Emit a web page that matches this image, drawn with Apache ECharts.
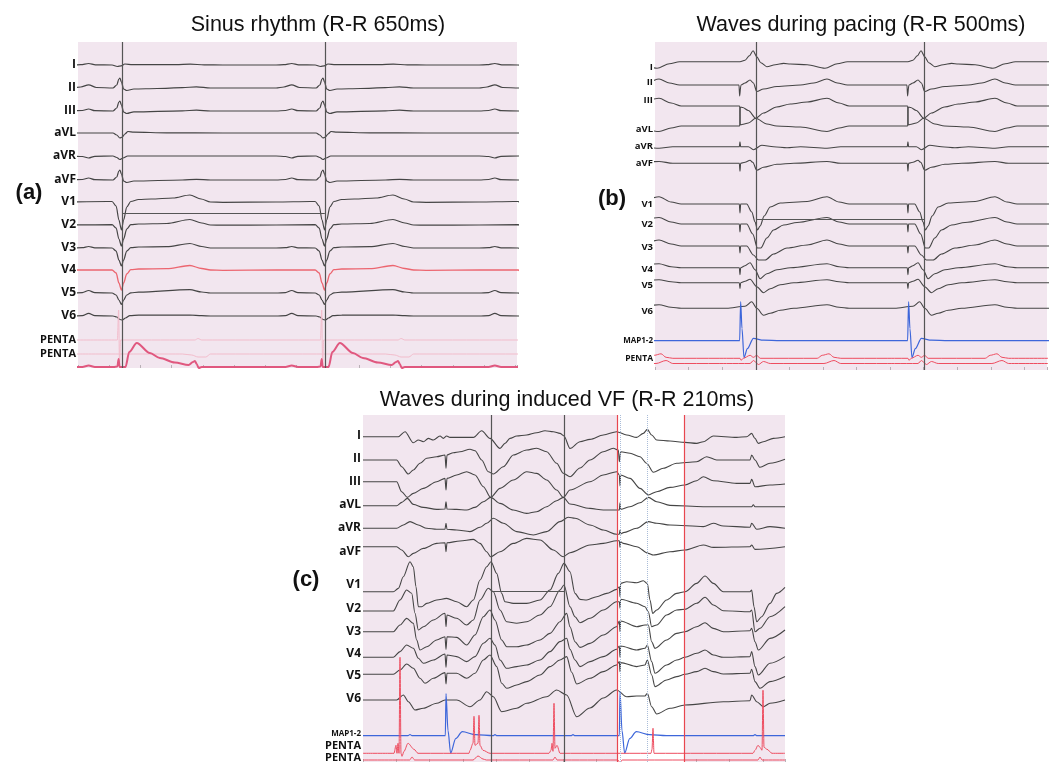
<!DOCTYPE html>
<html>
<head>
<meta charset="utf-8">
<title>ECG recordings</title>
<script src="https://cdn.jsdelivr.net/npm/echarts/dist/echarts.min.js"></script>
<style>
  html, body { margin: 0; padding: 0; background: #fff; }
  #chart { width: 1049px; height: 762px; }
</style>
</head>
<body>
<div id="chart"></div>
<script>
// ---------- panel (a): sinus rhythm, shapes in [ms from R, deflection] ----------
const aBeats = [134, 784, 1434];
const aLeads = ['I', 'II', 'III', 'aVL', 'aVR', 'aVF', 'V1', 'V2', 'V3', 'V4', 'V5', 'V6', 'PENTA', 'PENTA', ''];
const aDepth = [23, 46, 69, 91, 114, 138, 160, 183, 206, 228, 251, 274, 298, 312, 325];
const aI   = [[-150,0],[-125,0.3],[-100,1.5],[-78,0.2],[-25,0],[-8,-1.5],[4,-0.8],[16,1],[40,0.4],[180,0.4],[225,0.9],[270,0.1],[330,0]];
const aII  = [[-150,0],[-125,1],[-100,3.2],[-75,0.5],[-22,0],[-10,3],[-3,9],[0,10],[5,6],[12,-1],[22,-2.5],[45,-1],[120,-0.5],[200,0.3],[245,1.2],[290,0],[330,0]];
const aIII = [[-150,0],[-120,0.5],[-100,2],[-80,0.3],[-22,0],[-10,3],[-3,9],[0,10],[5,6],[12,-1],[22,-2.5],[45,-0.8],[200,0.2],[245,0.8],[290,0],[330,0]];
const aAVL = [[-150,0],[-22,0],[-10,-2],[0,-5],[8,-4],[16,-1],[26,1.5],[45,0.8],[150,0.2],[330,0]];
const aAVR = [[-150,0],[-120,-0.5],[-100,-2],[-80,-0.3],[-22,0],[-10,-1.5],[0,-3.5],[10,-2],[25,0],[330,0]];
const aAVF = [[-150,0],[-120,0.5],[-100,2],[-80,0.3],[-22,0],[-10,3],[-3,9],[0,10],[5,6],[12,-1],[22,-2.5],[45,-1],[200,0],[245,0.7],[290,0],[330,0]];
const aV1  = [[-150,0],[-40,0.5],[-25,0.5],[-12,-4],[-3,-18],[5,-28],[12,-18],[22,-5],[35,0.5],[60,2.5],[100,3],[170,4],[224,7],[260,3],[290,0],[330,-0.3]];
const aV2  = [[-150,0],[-25,0.3],[-12,-3],[-3,-14],[5,-21],[12,-14],[22,-4],[35,0.3],[60,1],[150,1.5],[224,5.5],[262,2],[290,0],[330,-0.2]];
const aV3  = [[-150,0],[-120,0.3],[-100,1.5],[-80,0.2],[-25,0],[-12,-3],[-3,-12],[5,-18],[12,-12],[22,-3],[35,0.3],[60,1],[150,1.3],[224,4.5],[262,1.5],[290,0],[330,0]];
const aV4  = [[-150,0],[-25,0],[-12,-3],[-3,-13],[5,-20],[12,-13],[22,-4],[35,0.3],[60,1],[150,1.3],[224,4.5],[262,1.5],[290,0],[330,-0.3]];
const aV5  = [[-150,0],[-120,0.4],[-100,2.5],[-80,0.3],[-25,0],[-12,-2],[-3,-7],[5,-11.5],[12,-7],[22,-2],[35,0.2],[60,0.8],[224,3.3],[262,1],[290,0],[330,0]];
const aV6  = [[-150,0],[-120,0.4],[-100,2.7],[-80,0.3],[-22,0],[-10,-1],[0,-3.5],[8,-4],[18,-2],[32,0.3],[60,0.8],[224,1],[262,0.3],[290,0],[330,0]];
const aP1  = [[-150,0],[-8,0],[-4,30],[-1,-27],[2,0],[20,0],[240,0],[250,1.5],[262,0],[330,0]];
const aP2  = [[-150,0],[200,0],[230,-1],[250,-3],[275,-3],[290,0],[330,0]];
const aP3  = [[-150,0],[-120,0],[-100,1.5],[-80,0],[-20,0],[-8,0.5],[-4,8],[-1,0],[18,0],[30,15],[54,24],[96,14],[128,9],[176,4.5],[220,2],[234,5],[240,6],[246,3],[252,-1],[262,0],[330,0]];
const aShapes = [aI, aII, aIII, aAVL, aAVR, aAVF, aV1, aV2, aV3, aV4, aV5, aV6, aP1, aP2, aP3];
const aLabelShift = [0, 0, 0, 0, 0, 0, 0, 0, 0, 0, 0, 0, 0, 0, 0];
const aCursors = [141, 790];
const aSpan = [141, 790, -171];

// ---------- panel (b): pacing, shapes in [ms from pacing spike, deflection] ----------
const bBeats = [-247, 253, 753];
const bLeads = ['I', 'II', 'III', 'aVL', 'aVR', 'aVF', 'V1', 'V2', 'V3', 'V4', 'V5', 'V6', 'MAP1-2', 'PENTA', ''];
const bDepth = [19.7, 43, 64, 84, 104.7, 121.3, 162, 182, 204, 225.7, 240.7, 266.3, 298.7, 316.3, 321.5];
const bI   = [[-40,0],[0,0],[15,1.5],[28,6],[39,11],[50,5],[62,-1],[80,-5],[105,-3],[130,-1.7],[150,-2.3],[200,-3],[253,-6.5],[290,-2],[320,0],[440,0]];
const bII  = [[-40,0],[-3,0],[-1,-11],[1,-11],[3,0],[15,2],[30,5],[40,2],[50,-6.5],[70,-4],[110,-1.5],[180,0],[220,2],[259,6],[290,2],[320,0],[440,0]];
const bIII = [[-40,0],[-1,0],[1,-19],[6,-18.5],[25,-17],[47,-12.3],[70,-7],[109,-1],[150,2],[200,4],[259,7.7],[295,3],[325,0],[440,0]];
const bAVL = [[-40,0],[-1,0],[1,19],[8,18.5],[25,15.5],[47,7.7],[80,2],[109,0],[180,-1],[259,-5.5],[295,-2],[325,0],[440,0]];
const bAVR = [[-40,0],[-2,0],[0,5],[2,0],[25,0],[40,-3],[65,1.5],[100,0],[140,-1],[180,0],[259,-1.5],[300,0],[440,0]];
const bAVF = [[-40,0],[-2,0],[0,-8],[2,0],[15,1],[30,3],[38,1],[50,-7],[70,-4],[110,-1],[160,0],[259,1.8],[300,0],[440,0]];
const bV1  = [[-40,0],[-2,0],[0,-9],[2,0],[20,0],[35,-8],[45,-18],[52,-26],[60,-22],[72,-12],[90,-3],[120,1],[200,2.5],[259,7.3],[295,2],[325,0],[440,0]];
const bV2  = [[-40,0],[-2,0],[0,-8],[2,0],[20,0],[38,-10],[52,-24],[62,-24],[80,-14],[100,-6],[130,-1],[170,1.5],[259,6.5],[295,2],[325,0],[440,0]];
const bV3  = [[-40,0],[-2,0],[0,-7],[2,0],[20,0],[40,-9],[55,-14],[75,-14],[100,-8],[140,-2],[200,1],[259,6],[295,2],[325,0],[440,0]];
const bV4  = [[-40,0],[-2,0],[0,-7],[2,0],[15,2],[30,5],[45,-2],[60,-11],[80,-6],[110,-2],[150,0],[259,4],[295,1],[325,0],[440,0]];
const bV5  = [[-40,0],[-2,0],[0,-6],[2,0],[15,1.5],[30,3.5],[50,-4],[70,-10],[90,-6],[120,-2],[160,0],[259,3],[295,1],[325,0],[440,0]];
const bV6  = [[-40,0],[15,2],[35,6.5],[50,0],[70,-7],[90,-5],[120,-2],[160,0],[259,3.5],[295,1],[325,0],[440,0]];
const bMAP = [[-40,0],[-1,0],[2,39],[6,12],[12,-17],[22,-8],[40,2.3],[70,0.5],[120,0],[440,0]];
const bP1  = [[-40,0],[0,0],[3,-2],[10,0],[30,3],[40,1],[50,3],[60,0],[230,0],[245,3],[265,4.5],[280,1],[300,0],[440,0]];
const bP2  = [[-40,0],[30,0],[40,3],[55,-1],[70,2],[90,0],[250,0],[280,3],[300,0],[440,0]];
const bShapes = [bI, bII, bIII, bAVL, bAVR, bAVF, bV1, bV2, bV3, bV4, bV5, bV6, bMAP, bP1, bP2];
const bLabelShift = [6, -3, -6, 3, 0, 0, 0, 0, 1, 2, 3, 3, 0, 0, 0];
const bCursors = [301, 801];
const bSpan = [301, 801, -177];

// ---------- panel (c): induced VF, traces in [ms, deflection] ----------
const cLeads = ['I', 'II', 'III', 'aVL', 'aVR', 'aVF', 'V1', 'V2', 'V3', 'V4', 'V5', 'V6', 'MAP1-2', 'PENTA', 'PENTA'];
const cDepth = [21.7, 45, 66.7, 90.7, 113.3, 131.7, 176.7, 196, 216.7, 242.3, 259.3, 285, 320.7, 338.3, 345];
const cI   = [[0,0],[106,0],[126,5],[151,-6],[166,-3.3],[181,-5],[196,-1.7],[211,-3.3],[231,0.7],[241,-1.7],[251,0.7],[261,-0.7],[331,-0.7],[356,6],[381,-1.7],[411,-11.7],[426,-6.7],[441,-1.7],[461,0.7],[491,1.7],[521,4],[546,6],[571,5],[591,3.3],[603,0.7],[621,-11.7],[651,-5],[681,-2.7],[721,1.7],[761,5],[791,1.7],[821,-0.7],[841,3.3],[853,7.3],[866,1.7],[881,-3.3],[921,-4.3],[966,-5.7],[1001,-6.7],[1021,-5],[1051,0.7],[1121,-0.7],[1151,0],[1166,3.3],[1176,-1.7],[1186,-6.7],[1201,-5],[1231,-1.7],[1266,0]];
const cII  = [[0,0],[101,0],[116,-6.7],[136,-14],[151,-10],[171,-3.3],[191,1.7],[221,3.3],[246,5],[249,-8.3],[252,5],[271,7.3],[291,8.3],[321,10.7],[336,9.3],[356,0],[376,-11.7],[391,-14],[421,-6.7],[451,5],[491,10],[521,11.7],[551,8.3],[581,-3.3],[601,-13.3],[621,-16.7],[651,-8],[681,0],[721,8.3],[751,11.7],[766,10],[769,-1.7],[773,8.3],[801,6.7],[831,3.3],[851,-3.3],[871,-12.3],[901,-8.3],[941,-3.3],[1001,-1.7],[1031,3.3],[1061,0],[1161,0],[1166,5],[1176,0],[1191,-7.3],[1221,-3.3],[1266,0.7]];
const cIII = [[0,0],[101,0],[116,-10],[133,-15.7],[151,-11.7],[181,-6.7],[221,0],[246,3.3],[249,-8.3],[252,3.3],[281,6.7],[311,10],[336,6.7],[361,-5],[383,-15.7],[411,-6.7],[451,1.7],[491,10],[521,8.3],[551,1.7],[581,-8.3],[601,-15.7],[621,-8.3],[681,0],[721,6.7],[761,10],[769,6.7],[771,-4.3],[773,6.7],[801,3.3],[831,-6.7],[856,-13.3],[881,-10],[921,-5.7],[966,-3.3],[1001,1],[1021,5],[1051,1],[1121,-1.7],[1161,-1.7],[1166,2.3],[1176,-5],[1221,-3.3],[1266,-2.3]];
const cAVL = [[0,0],[101,0],[116,3.3],[133,7.3],[151,1.3],[181,-1.7],[221,-3.7],[246,-3.3],[249,4],[252,-3.3],[281,-3.7],[311,-4.3],[336,-1.7],[361,4],[383,8.3],[411,2.3],[451,-4.3],[491,-7.7],[521,-6],[551,-1],[581,5],[601,8.3],[621,1.7],[681,-2.7],[721,-4.3],[761,-4.3],[769,-4.3],[771,3],[773,-3.7],[801,-1],[831,3],[856,8.3],[881,4],[921,0.3],[1021,-1],[1166,-1],[1171,1],[1176,-1],[1266,-1]];
const cAVR = [[0,0],[101,0],[121,3.3],[141,6.7],[166,3.3],[191,0],[221,-1],[246,-1],[249,5],[252,-1],[281,-1.7],[321,-3.3],[351,1],[371,5],[391,10],[421,5],[461,-3.3],[511,-6.7],[551,-3.3],[591,6.7],[616,11],[636,10],[681,3.3],[721,-1.7],[761,-6],[769,-6],[771,-1.7],[773,-5.7],[781,-4.3],[821,0],[856,6.7],[881,5],[921,3.3],[1021,1.7],[1051,5],[1081,2.3],[1161,1],[1166,5],[1181,-1],[1221,1.7],[1266,0]];
const cAVF = [[0,0],[101,0],[116,-3.3],[136,-10],[151,-6.7],[181,-1.7],[221,3.3],[246,4],[249,-5],[252,4],[291,5.7],[331,7.3],[351,3.3],[371,-5],[383,-10],[411,-5],[451,3.3],[491,8.3],[531,6.7],[571,-3.3],[601,-10],[621,-6],[681,1.7],[721,3.3],[761,6],[769,6],[771,-0.7],[773,5],[781,3.3],[821,0],[856,-6.7],[871,-8.3],[921,-5],[966,-3.3],[1021,1.7],[1051,-0.7],[1161,0],[1166,1.7],[1176,-2.7],[1266,0]];
const cV1  = [[0,0],[91,0],[106,3.3],[121,15],[141,30],[151,25],[159,5],[166,-15],[176,-15],[191,-11.7],[221,-8.3],[251,-6.7],[281,-10],[311,-15],[331,-8.3],[351,11.7],[371,25],[384,30],[401,18.3],[416,-1.7],[426,-10],[451,-11.7],[491,-11.7],[531,-8.3],[561,1.7],[586,18.3],[603,28.3],[621,20],[636,-1.7],[651,-7.7],[671,-8.3],[701,-5],[731,-1.7],[761,2.3],[769,5],[771,-5],[773,8.3],[791,10],[821,9],[841,11],[853,8.3],[861,-8.3],[869,-21.7],[881,-18.3],[911,-8.3],[941,-1.7],[966,0],[1001,8.3],[1026,15.7],[1051,8.3],[1081,0],[1161,0],[1166,1.7],[1173,-15],[1181,-30],[1196,-25],[1221,-11.7],[1241,-1.7],[1266,4.3]];
const cV2  = [[0,0],[91,0],[111,11],[131,21],[146,17.7],[156,-2.3],[166,-19],[181,-15.7],[211,-9],[246,-2.3],[249,-15.7],[252,-4],[281,-7.3],[311,-14],[331,-9],[351,11],[376,22.7],[391,19.3],[411,1],[431,-10.7],[461,-12.3],[491,-10.7],[531,-4],[561,4.3],[591,21],[603,26],[621,4.3],[636,-5.7],[651,-11.7],[681,-7.3],[721,1],[761,9.3],[769,9.3],[771,2.7],[773,11.7],[821,7.7],[846,4.3],[856,-0.7],[866,-15.7],[881,-14],[911,-4],[941,1],[966,1.7],[1001,7.7],[1026,13.7],[1051,6],[1081,0.3],[1161,-0.7],[1166,1],[1176,-20.7],[1191,-17.3],[1221,-5.7],[1266,4.3]];
const cV3  = [[0,0],[91,0],[111,6.7],[131,13.3],[151,8.3],[161,-8.3],[171,-18.3],[191,-15],[221,-8.3],[246,-5],[249,-17.7],[252,-5],[281,-5.7],[311,-13.3],[336,-3.3],[361,15],[381,21.7],[396,11.7],[416,-8.3],[431,-15],[461,-15],[491,-13.3],[531,-8.3],[561,-1.7],[591,10],[611,18.3],[621,5],[636,-10],[651,-15.7],[681,-11.7],[721,-3.3],[761,5],[769,10.7],[771,0],[773,10.7],[821,5],[846,6.7],[856,6.7],[866,-10],[876,-16.7],[911,-8.3],[941,-1.7],[966,0],[1001,5],[1026,9],[1051,3.3],[1081,0],[1161,1],[1166,3.3],[1176,-10],[1186,-18.3],[1221,-6.7],[1266,1.7]];
const cV4  = [[0,0],[91,0],[111,5.7],[131,12.3],[151,9],[166,-1],[181,-6],[211,-2.7],[246,3.3],[249,-10],[252,2.3],[281,0.7],[311,-4.3],[336,0.7],[361,14],[381,19],[396,12.3],[411,-2.7],[431,-11],[461,-9.3],[491,-7.7],[531,-2.7],[561,5.7],[591,15.7],[611,19],[621,8],[636,-2.7],[651,-9.3],[681,-4.3],[721,0.7],[761,8],[769,11.3],[771,0],[773,11.3],[821,7.3],[846,9],[853,12.3],[866,-4.3],[876,-16],[911,-7.7],[941,-2.7],[966,0],[1001,4],[1026,7.3],[1051,2.3],[1081,0],[1161,0.7],[1166,5.7],[1176,-9.3],[1186,-17.7],[1221,-6],[1266,0.7]];
const cV5  = [[0,0],[91,0],[111,4.3],[131,10.3],[151,6],[171,-4],[186,-9],[211,-4],[246,1.7],[249,-9.7],[252,1],[281,1],[311,-4],[336,1],[361,14.3],[381,19.3],[401,7.7],[416,-9],[431,-14],[461,-10.7],[491,-7.3],[531,-0.7],[561,7.7],[591,14.3],[611,17.7],[626,2],[641,-9.7],[681,-4],[721,2.7],[761,9.3],[769,12.7],[771,2.7],[773,11.7],[821,7.7],[846,9.3],[853,14.3],[866,-0.7],[876,-12.3],[911,-5.7],[941,-2.3],[966,0],[1001,2.7],[1026,6],[1051,2.7],[1081,0.3],[1161,1],[1166,5],[1176,-7.3],[1191,-14],[1221,-7.3],[1266,-2.3]];
const cV6  = [[0,0],[101,0],[121,5],[136,-1.7],[156,-10],[181,-8.3],[221,-3.3],[246,0],[281,0],[321,-6.7],[351,0],[371,8.3],[391,3.3],[416,-11.7],[461,-8.3],[491,-3.3],[551,3.3],[581,10],[611,5],[641,-16.7],[681,-8],[721,2],[761,10],[791,3.3],[821,4],[846,4],[853,6.7],[866,-6.7],[881,-14],[921,-8.3],[966,-5],[1081,-1.7],[1161,-0.7],[1166,5],[1181,-1.7],[1201,-6.7],[1221,-3.3],[1266,0]];
const cMAP = [[0,0],[135,0],[141,1.2],[147,0],[247,0],[249,42],[255,5],[263,-17.5],[278,-3],[298,4],[338,1],[390,0],[396,1],[402,0],[624,0],[630,1],[636,0],[769,0],[771,44],[777,5],[785,-17.5],[800,-3],[820,4],[860,1],[910,0],[1170,0],[1176,1],[1182,0],[1266,0]];
const cP1  = [[0,0],[93,0],[99,8],[102,0],[105,10],[108,0],[111,96],[114,0],[117,-3],[123,2],[135,10],[153,4],[165,0],[318,0],[321,3],[330,10],[333,37],[336,8],[345,10],[348,38],[351,8],[360,3],[381,0],[558,0],[564,3],[567,10],[570,2],[573,50],[576,5],[582,8],[591,0],[864,0],[867,4],[870,25],[873,0],[1170,0],[1176,3],[1185,8],[1191,6],[1197,3],[1200,63],[1203,6],[1212,4],[1227,0],[1266,0]];
const cP2  = [[0,0],[140,0],[147,3],[155,0],[330,0],[345,4],[360,1],[370,0],[570,0],[576,3],[582,0],[765,0],[771,-3],[777,0],[1185,0],[1191,3],[1197,0],[1266,0]];
const cTraces = [cI, cII, cIII, cAVL, cAVR, cAVF, cV1, cV2, cV3, cV4, cV5, cV6, cMAP, cP1, cP2];
const cLabelShift = [-1, -1, 0, -1, -1, 5, -7, -2, 0, -4, 1, -1, -2, -7, -2];
const cCursors = [384, 603];
const cRedCursors = [762, 963];
const cDotted = [771, 852];
const cSpan = [384, 603, -176];

// ---------- helpers ----------
function atBeats(shape, beats) {
  const out = [];
  beats.forEach(b => shape.forEach(p => out.push([b + p[0], p[1]])));
  return out;
}
function leadSeries(panel, name, pts, depth, shift, color, width, fontSize) {
  const data = pts.map(p => [p[0], p[1] - depth]);
  const s = {
    type: 'line', xAxisIndex: panel, yAxisIndex: panel, data: data,
    showSymbol: false, smooth: 0.3, smoothMonotone: 'x', silent: true, z: 3,
    animation: false, lineStyle: { color: color, width: width }
  };
  if (name) {
    s.markPoint = {
      symbol: 'circle', symbolSize: 0, silent: true, animation: false,
      data: [{ coord: [0, -depth - shift] }],
      label: {
        show: true, position: 'left', distance: 2, formatter: name,
        color: '#111', fontFamily: 'Open Sans', fontWeight: 'bold',
        fontSize: name === 'MAP1-2' ? 8 : (name === 'PENTA' ? fontSize - 1 : fontSize)
      }
    };
  }
  return s;
}
function cursorSeries(panel, xs, span, extra) {
  const lines = xs.map(x => ({ xAxis: x, lineStyle: { color: '#555', width: 1.2, type: 'solid' } }));
  lines.push([{ coord: [span[0], span[2]] }, { coord: [span[1], span[2]] }]);
  return {
    type: 'line', xAxisIndex: panel, yAxisIndex: panel, data: [], z: 4, silent: true, animation: false,
    markLine: {
      symbol: ['none', 'none'], silent: true, animation: false, label: { show: false },
      lineStyle: { color: '#555', width: 1.1, type: 'solid' }, data: lines.concat(extra || [])
    }
  };
}

// ---------- build ----------
const series = [];
const grayLine = '#454545';

// white band in (c) sits below the traces
series.push({
  type: 'line', xAxisIndex: 2, yAxisIndex: 2, data: [], z: 1, silent: true, animation: false,
  markArea: { silent: true, itemStyle: { color: '#ffffff' }, data: [[{ xAxis: cRedCursors[0] }, { xAxis: cRedCursors[1] }]] }
});

aShapes.forEach((shape, i) => {
  let color = grayLine, width = 1.2;
  if (i === 9) { color = '#ec6670'; width = 1.3; }
  if (i === 12 || i === 13) { color = '#f2bccb'; width = 1; }
  if (i === 14) { color = '#e0587f'; width = 2; }
  series.push(leadSeries(0, aLeads[i], atBeats(shape, aBeats), aDepth[i], aLabelShift[i], color, width, 12));
});
bShapes.forEach((shape, i) => {
  let color = grayLine, width = 1.1;
  if (i === 12) { color = '#3d66da'; width = 1.2; }
  if (i >= 13) { color = '#ee4d60'; width = 1; }
  series.push(leadSeries(1, bLeads[i], atBeats(shape, bBeats), bDepth[i], bLabelShift[i], color, width, 9.5));
});
cTraces.forEach((pts, i) => {
  let color = grayLine, width = 1.1;
  if (i === 12) { color = '#3d66da'; width = 1.2; }
  if (i >= 13) { color = '#ee4d60'; width = 1; }
  series.push(leadSeries(2, cLeads[i], pts, cDepth[i], cLabelShift[i], color, width, 12));
});

series.push(cursorSeries(0, aCursors, aSpan));
series.push(cursorSeries(1, bCursors, bSpan));
series.push(cursorSeries(2, cCursors, cSpan,
  cRedCursors.map(x => ({ xAxis: x, lineStyle: { color: '#e8464f', width: 1.2, type: 'solid' } }))
    .concat(cDotted.map(x => ({ xAxis: x, lineStyle: { color: '#a9bcd8', width: 1, type: 'dotted' } })))));

const pink = '#f2e6ef';
const grids = [
  { left: 78, top: 42, width: 439, height: 326 },
  { left: 655, top: 42, width: 392, height: 328 },
  { left: 363, top: 415, width: 422, height: 347 }
].map(g => Object.assign(g, { show: true, backgroundColor: pink, borderWidth: 0 }));
const spans = [1405, 1167, 1266];
const depths = [326, 328, 347];

const option = {
  animation: false,
  grid: grids,
  xAxis: spans.map((w, i) => ({
    type: 'value', gridIndex: i, min: 0, max: w, interval: 100, position: 'bottom',
    axisLine: { show: false, onZero: false }, axisLabel: { show: false }, splitLine: { show: false },
    axisTick: { show: true, inside: true, length: 3, lineStyle: { color: '#b9b0b6' } }
  })),
  yAxis: depths.map((h, i) => ({ type: 'value', gridIndex: i, min: -h, max: 0, show: false })),
  graphic: [
    { type: 'text', x: 318, y: 25, style: { text: 'Sinus rhythm (R-R 650ms)', font: '21.5px "Liberation Sans"', fill: '#111', textAlign: 'center', textVerticalAlign: 'middle' } },
    { type: 'text', x: 861, y: 25, style: { text: 'Waves during pacing (R-R 500ms)', font: '21.5px "Liberation Sans"', fill: '#111', textAlign: 'center', textVerticalAlign: 'middle' } },
    { type: 'text', x: 567, y: 400, style: { text: 'Waves during induced VF (R-R 210ms)', font: '21.5px "Liberation Sans"', fill: '#111', textAlign: 'center', textVerticalAlign: 'middle' } },
    { type: 'text', x: 29, y: 193, style: { text: '(a)', font: 'bold 22px "Liberation Sans"', fill: '#111', textAlign: 'center', textVerticalAlign: 'middle' } },
    { type: 'text', x: 612, y: 199, style: { text: '(b)', font: 'bold 22px "Liberation Sans"', fill: '#111', textAlign: 'center', textVerticalAlign: 'middle' } },
    { type: 'text', x: 306, y: 580, style: { text: '(c)', font: 'bold 22px "Liberation Sans"', fill: '#111', textAlign: 'center', textVerticalAlign: 'middle' } }
  ],
  series: series
};

const chart = echarts.init(document.getElementById('chart'), null, { renderer: 'canvas' });
chart.setOption(option);
</script>
</body>
</html>
